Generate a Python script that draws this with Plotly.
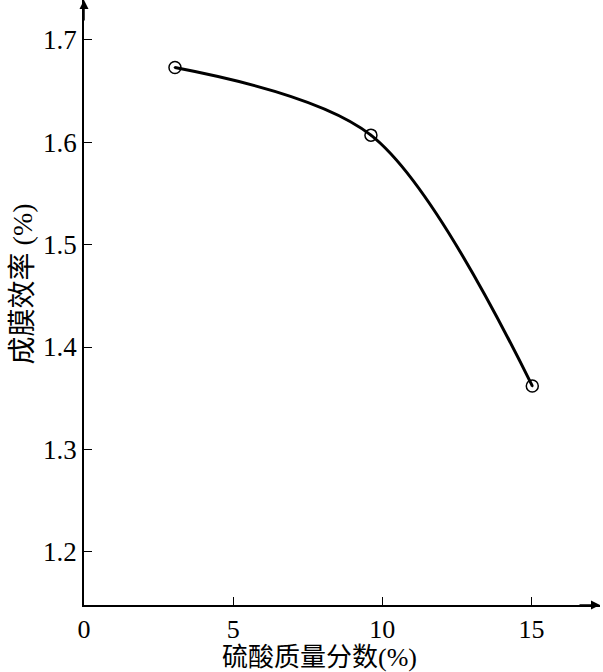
import plotly.graph_objects as go

x_vals = [3.05, 9.62, 15.03]
y_vals = [1.673, 1.607, 1.362]
x_ticks = [0, 5, 10, 15]
y_ticks = [1.2, 1.3, 1.4, 1.5, 1.6, 1.7]
x_title = "硫酸质量分数(%)"
y_title = "成膜效率 (%)"

FONT = "'Liberation Serif', 'DejaVu Serif', serif"
CJK = "'Liberation Serif', 'Noto Sans CJK SC', serif"
XR = [0, 17.3]
YR = [1.148, 1.739]

fig = go.Figure()
fig.add_trace(go.Scatter(
    x=x_vals, y=y_vals, mode="lines+markers",
    line=dict(color="black", width=3, shape="spline", smoothing=0.9),
    marker=dict(symbol="circle-open-dot", size=12, color="black",
                line=dict(color="black", width=1.5)),
    cliponaxis=False, showlegend=False,
))

fig.update_layout(
    width=603, height=672,
    margin=dict(l=84, r=3, t=0, b=67, autoexpand=False),
    paper_bgcolor="white", plot_bgcolor="white",
    font=dict(family=FONT, size=24, color="black"),
    xaxis=dict(range=XR, tickvals=x_ticks, ticks="inside", ticklen=8,
               tickwidth=1, tickcolor="black", showline=True, linecolor="black",
               linewidth=2, showgrid=False, zeroline=False, automargin=False,
               tickfont=dict(family=FONT, size=26), ticklabelstandoff=0),
    yaxis=dict(range=YR, tickvals=y_ticks, ticks="inside", ticklen=8,
               tickwidth=1, tickcolor="black", showline=True, linecolor="black",
               linewidth=1.5, showgrid=False, zeroline=False, automargin=False,
               tickfont=dict(family=FONT, size=27)),
    annotations=[
        dict(x=0.5 * (XR[0] + XR[1]) - 0.75, xref="x", y=-0.087, yref="paper",
             text=x_title, showarrow=False, xanchor="center", yanchor="middle",
             font=dict(family=CJK, size=26)),
        dict(x=-0.12, xref="paper", y=0.53, yref="paper",
             text=y_title, showarrow=False, textangle=-90,
             xanchor="center", yanchor="middle",
             font=dict(family=CJK, size=28)),
        dict(x=XR[1], y=YR[0], xref="x", yref="y", ax=-22, ay=0,
             showarrow=True, arrowhead=2, arrowsize=1.2, arrowwidth=1.5,
             arrowcolor="black", text=""),
        dict(x=0, y=YR[1], xref="x", yref="y", ax=0, ay=22,
             showarrow=True, arrowhead=2, arrowsize=1.2, arrowwidth=1.5,
             arrowcolor="black", text=""),
    ],
)

fig.write_html("out.html", config={"displayModeBar": False},
               post_script="document.body.style.margin='0';document.body.style.padding='0';")
